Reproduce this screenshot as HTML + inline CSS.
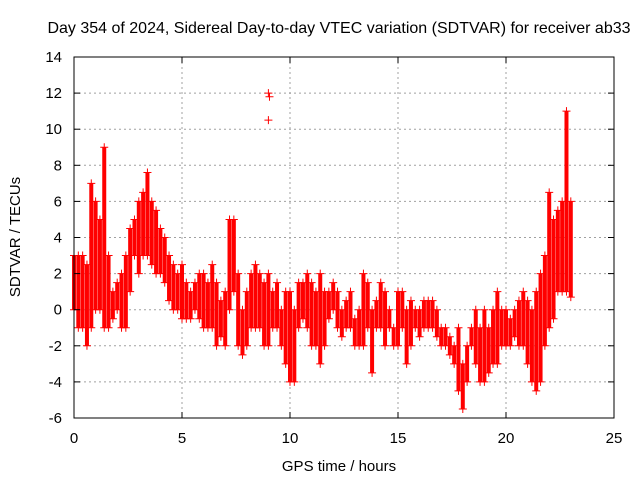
<!DOCTYPE html>
<html><head><meta charset="utf-8"><style>
body{margin:0;background:#fff;}
svg{display:block;font-family:"Liberation Sans",sans-serif;}
</style></head><body>
<svg id="chart" width="640" height="480" viewBox="0 0 640 480">
<text x="339" y="33" font-size="16" text-anchor="middle">Day 354 of 2024, Sidereal Day-to-day VTEC variation (SDTVAR) for receiver ab33</text>
<text x="339" y="471" font-size="15" text-anchor="middle">GPS time / hours</text>
<text x="20" y="237" font-size="15" text-anchor="middle" transform="rotate(-90 20 237)">SDTVAR / TECUs</text>
<g id="grid"></g>
<g id="marks"></g>
<g id="axes"></g>
</svg>
<script>
const times=[0,0.2,0.4,0.6,0.8,1.0,1.2,1.4,1.6,1.8,2.0,2.2,2.4,2.6,2.8,3.0,3.2,3.4,3.6,3.8,4.0,4.2,4.4,4.6,4.8,5.0,5.2,5.4,5.6,5.8,6.0,6.2,6.4,6.6,6.8,7.0,7.2,7.4,7.6,7.8,8.0,8.2,8.4,8.6,8.8,9.0,9.2,9.4,9.6,9.8,10.0,10.2,10.4,10.6,10.8,11.0,11.2,11.4,11.6,11.8,12.0,12.2,12.4,12.6,12.8,13.0,13.2,13.4,13.6,13.8,14.0,14.2,14.4,14.6,14.8,15.0,15.2,15.4,15.6,15.8,16.0,16.2,16.4,16.6,16.8,17.0,17.2,17.4,17.6,17.8,18.0,18.2,18.4,18.6,18.8,19.0,19.2,19.4,19.6,19.8,20.0,20.2,20.4,20.6,20.8,21.0,21.2,21.4,21.6,21.8,22.0,22.2,22.4,22.6,22.8,23.0];
const lowVals=[0,-1,-1,-2,-1,0,0,-1,-1,-0.5,0,-1,-1,1,3,2,3,3,2.5,2,2,1.5,0.5,0,0,-0.5,-0.5,-0.5,0,-0.5,-1,-1,-1,-2,-1.5,-2,0,1,-2,-2.5,-2,-1,-1,-1,-2,-2,-1,-1,-2,-3,-4,-4,-1,-0.5,-1,-2,-2,-3,-2,-0.5,0,-1,-1.5,-1,-1,-2,-2,-2,-1,-3.5,-1,-1,-2,-1,-2,-2,-1,-3,-2,-1,-1.5,-1,-1,-1,-1.5,-2,-2,-2.5,-3,-4.5,-5.5,-4,-2,-3,-4,-4,-3.5,-3,-3,-2,-2,-2,-1.5,-2,-2,-3,-4,-4.5,-4,-2,-1,-0.5,1,1,1,0.7];
const highVals=[3,3,3,2.5,7,6,5,9,3,1,1.5,2,3,4.5,5,6,6.5,7.6,6,5.5,4.5,4,3,2.5,2,2.5,1.5,1,1.5,2,2,1.5,2.5,1.5,0.5,1,5,5,2,0,1,2,2.5,2,1.5,2,1,1.5,0,1,1,0,1.5,1.5,2,1.5,1,2,1,1,1.5,1,0,0.5,1,-0.5,0,2,1.5,0,0.5,1.5,1,0,-1,1,1,0,0.5,0,0,0.5,0.5,0.5,0,-1,-1,-1.5,-2,-1,-3,-2,-1,0,-1,0,-1,0,1,0,0,-0.5,0,0.5,1,0.5,0,1,2,3,6.5,5,5.5,6,11,6];
const outlierTimes=[9.0,9.05,9.0];
const outlierVals=[12,11.8,10.5];
const xTicks=[0,5,10,15,20,25];
const yTicks=[-6,-4,-2,0,2,4,6,8,10,12,14];
const L=74,R=614,T=57,B=418;
const xs=v=>L+(v/25)*(R-L);
const ys=v=>B-((v+6)/20)*(B-T);
const NS="http://www.w3.org/2000/svg";
function mk(tag,attrs,parent){const e=document.createElementNS(NS,tag);for(const k in attrs)e.setAttribute(k,attrs[k]);parent.appendChild(e);return e;}
const grid=document.getElementById('grid'),axes=document.getElementById('axes'),marks=document.getElementById('marks');
yTicks.forEach(v=>{
 if(v>-6&&v<14){const g=mk('line',{x1:L,x2:R,y1:ys(v),y2:ys(v),stroke:'#a0a0a0','stroke-dasharray':'2,3'},grid);
 
 }
 mk('line',{x1:L,x2:L+6,y1:ys(v),y2:ys(v),stroke:'#000'},axes);
 mk('line',{x1:R,x2:R-6,y1:ys(v),y2:ys(v),stroke:'#000'},axes);
 const t=mk('text',{x:L-12,y:ys(v)+5,'font-size':15,'text-anchor':'end'},axes);t.textContent=v;
 
 
});
xTicks.forEach(v=>{
 if(v>0&&v<25){const g=mk('line',{x1:xs(v),x2:xs(v),y1:T,y2:B,stroke:'#a0a0a0','stroke-dasharray':'2,3'},grid);
 
 }
 mk('line',{x1:xs(v),x2:xs(v),y1:B,y2:B-6,stroke:'#000'},axes);
 mk('line',{x1:xs(v),x2:xs(v),y1:T,y2:T+6,stroke:'#000'},axes);
 const t=mk('text',{x:xs(v),y:B+25,'font-size':15,'text-anchor':'middle'},axes);t.textContent=v;
 
 
});
const fr=mk('rect',{x:L,y:T,width:R-L,height:B-T,fill:'none',stroke:'#000'},axes);


function plus(x,y){const p=mk('path',{d:`M${x-4},${y}h8M${x},${y-4}v8`,stroke:'#f00','stroke-width':1},marks);
 
 }
times.forEach((t,i)=>{
 const x=xs(t),y1=ys(lowVals[i]),y2=ys(highVals[i]);
 const b=mk('line',{x1:x,x2:x,y1:y1,y2:y2,stroke:'#f00','stroke-width':4},marks);
 
 
 plus(x,y1);plus(x,y2);
});
outlierTimes.forEach((t,i)=>plus(xs(t),ys(outlierVals[i])));
</script>
</body></html>
